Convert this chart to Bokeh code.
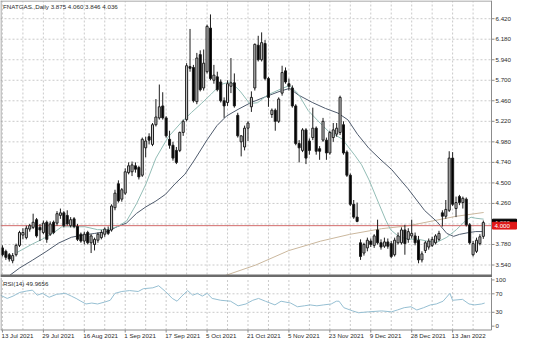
from bokeh.plotting import figure
from bokeh.layouts import column
from bokeh.models import ColumnDataSource, Range1d
from bokeh.core.properties import value
from bokeh.embed import file_html
from bokeh.resources import INLINE

# ---------------- data ----------------
symbol_header = "FNATGAS.,Daily  3.875 4.060 3.846 4.036"
rsi_header = "RSI(14) 49.9656"
last_close = 4.036
level_line = 4.000

opens = [3.74, 3.70, 3.66, 3.59, 3.66, 3.77, 3.89, 3.86, 3.96, 3.98,
         4.07, 3.98, 3.92, 4.04, 3.90, 4.04, 4.03, 4.12, 4.15, 4.12,
         4.00, 4.08, 3.99, 3.90, 3.82, 3.92, 3.80, 3.78, 3.83, 3.86,
         3.90, 3.95, 3.95, 4.21, 4.49, 4.31, 4.38, 4.62, 4.63, 4.70,
         4.68, 4.59, 4.91, 5.04, 4.95, 5.18, 5.26, 5.40, 5.26, 5.01,
         4.94, 4.88, 4.88, 5.09, 5.24, 5.86, 5.85, 5.45, 6.00, 5.61,
         5.80, 6.31, 5.70, 5.74, 5.68, 5.46, 5.44, 5.63, 5.67, 5.29,
         4.98, 4.92, 5.14, 5.39, 5.61, 6.11, 5.94, 6.13, 5.72, 5.30,
         5.35, 5.22, 5.55, 5.81, 5.66, 5.61, 5.40, 4.96, 4.88, 5.12,
         4.99, 5.03, 5.14, 4.90, 5.00, 5.00, 4.85, 5.03, 5.07, 5.09,
         5.18, 4.86, 4.59, 4.25, 4.10, 3.80, 3.68, 3.74, 3.82, 3.77,
         3.95, 3.80, 3.76, 3.81, 3.79, 3.66, 3.80, 3.80, 3.95, 3.84,
         3.88, 3.88, 3.83, 3.60, 3.71, 3.75, 3.77, 3.80, 3.84, 4.15,
         4.11, 4.18, 4.79, 4.20, 4.34, 4.27, 4.31, 4.01, 3.66, 3.70,
         3.79, 3.875]
highs = [3.77, 3.72, 3.68, 3.68, 3.79, 3.94, 3.97, 4.00, 4.02, 4.14,
         4.09, 4.02, 4.06, 4.06, 4.05, 4.06, 4.17, 4.20, 4.17, 4.18,
         4.10, 4.10, 4.02, 3.92, 3.93, 3.94, 3.90, 3.86, 3.92, 3.95,
         3.98, 3.99, 4.25, 4.42, 4.53, 4.44, 4.67, 4.74, 4.75, 4.74,
         4.70, 5.03, 5.04, 5.08, 5.20, 5.48, 5.65, 5.56, 5.28, 5.11,
         4.98, 4.92, 5.10, 5.24, 5.90, 6.30, 5.88, 6.02, 6.05, 6.06,
         6.35, 6.47, 5.88, 5.80, 5.71, 5.50, 5.70, 5.96, 5.78, 5.32,
         5.06, 5.17, 5.22, 5.57, 6.13, 6.22, 6.26, 6.17, 5.74, 5.37,
         5.37, 5.50, 5.87, 5.85, 5.72, 5.64, 5.42, 5.00, 5.14, 5.14,
         5.02, 5.38, 5.16, 4.93, 5.26, 5.03, 5.11, 5.20, 5.20, 5.52,
         5.22, 4.88, 4.61, 4.30, 4.27, 3.84, 3.80, 3.86, 3.85, 3.90,
         4.07, 3.84, 3.86, 3.85, 3.82, 3.86, 3.92, 3.98, 4.01, 3.97,
         4.07, 3.92, 3.88, 3.70, 3.82, 3.85, 3.87, 3.90, 3.94, 4.18,
         4.30, 4.87, 4.86, 4.34, 4.36, 4.34, 4.33, 4.03, 3.82, 3.86,
         3.90, 4.060]
lows = [3.64, 3.60, 3.58, 3.56, 3.64, 3.75, 3.84, 3.84, 3.93, 3.96,
        3.86, 3.82, 3.90, 3.80, 3.88, 3.90, 4.00, 4.08, 3.98, 4.00,
        3.98, 3.97, 3.82, 3.80, 3.78, 3.78, 3.68, 3.71, 3.80, 3.84,
        3.87, 3.89, 3.93, 4.18, 4.27, 4.28, 4.36, 4.60, 4.58, 4.62,
        4.54, 4.57, 4.80, 4.95, 4.93, 5.16, 5.24, 5.24, 5.03, 4.90,
        4.76, 4.72, 4.86, 5.05, 5.22, 5.80, 5.44, 5.42, 5.57, 5.58,
        5.78, 5.70, 5.66, 5.57, 5.44, 5.26, 5.40, 5.55, 5.38, 5.03,
        4.81, 4.88, 4.99, 5.33, 5.58, 5.92, 5.92, 5.70, 5.39, 5.26,
        5.11, 5.20, 5.52, 5.66, 5.58, 5.38, 4.94, 4.74, 4.86, 4.72,
        4.83, 5.00, 4.83, 4.77, 4.98, 4.77, 4.83, 4.98, 5.04, 5.06,
        4.83, 4.57, 4.23, 4.08, 4.04, 3.60, 3.65, 3.70, 3.75, 3.74,
        3.78, 3.72, 3.74, 3.73, 3.62, 3.64, 3.78, 3.78, 3.66, 3.80,
        3.85, 3.77, 3.56, 3.57, 3.68, 3.72, 3.75, 3.78, 3.82, 3.99,
        4.08, 4.16, 4.23, 4.10, 4.24, 4.20, 3.99, 3.78, 3.64, 3.68,
        3.77, 3.846]
closes = [3.66, 3.63, 3.61, 3.65, 3.77, 3.92, 3.92, 3.97, 4.00, 4.04,
          3.88, 3.95, 4.03, 3.84, 4.02, 3.92, 4.14, 4.15, 4.00, 4.02,
          4.07, 3.99, 3.84, 3.82, 3.90, 3.80, 3.88, 3.84, 3.90, 3.92,
          3.96, 3.91, 4.23, 4.38, 4.29, 4.42, 4.63, 4.70, 4.71, 4.66,
          4.57, 5.01, 4.99, 5.00, 5.18, 5.27, 5.39, 5.26, 5.05, 4.94,
          4.79, 4.74, 5.09, 5.22, 5.87, 5.84, 5.46, 5.96, 5.59, 5.90,
          6.33, 5.72, 5.76, 5.59, 5.46, 5.40, 5.66, 5.67, 5.40, 5.05,
          5.05, 5.14, 5.20, 5.50, 6.12, 5.94, 6.14, 5.72, 5.50, 5.35,
          5.22, 5.48, 5.79, 5.68, 5.63, 5.40, 4.96, 4.91, 5.12, 4.79,
          4.88, 5.14, 4.87, 4.87, 5.22, 4.85, 5.09, 5.12, 5.14, 5.50,
          4.85, 4.59, 4.25, 4.10, 4.05, 3.64, 3.78, 3.83, 3.78, 3.88,
          3.80, 3.75, 3.81, 3.76, 3.64, 3.83, 3.88, 3.95, 3.79, 3.93,
          3.91, 3.80, 3.60, 3.67, 3.80, 3.82, 3.84, 3.88, 3.91, 4.11,
          4.19, 4.79, 4.25, 4.27, 4.27, 4.32, 4.01, 3.80, 3.79, 3.83,
          3.87, 4.036]

# moving averages (bar position, price)
fast_ma_bar = [3.7, 8.8, 11.7, 15.1, 17.4, 20.2, 24.2, 27.9, 30.7, 33.6, 36.4, 39.3,
               42.1, 45.0, 48.6, 52.6, 55.5, 58.3, 61.2, 64.0, 66.9, 69.7, 72.5, 74.8,
               77.7, 81.4, 84.2, 86.8, 89.6, 92.5, 95.6, 99.6, 103.3, 105.3, 107.5,
               110.4, 112.4, 113.8, 116.1, 118.9, 121.8, 124.6, 127.5, 130.3, 133.1,
               136.0, 137.4, 138.8, 141.1]
fast_ma_val = [3.674, 3.786, 3.842, 3.920, 3.987, 3.987, 3.987, 3.953, 3.953, 3.987,
               4.054, 4.255, 4.489, 4.790, 5.036, 5.215, 5.326, 5.427, 5.538, 5.650,
               5.683, 5.572, 5.427, 5.438, 5.527, 5.594, 5.639, 5.538, 5.348, 5.226,
               5.103, 5.014, 4.824, 4.712, 4.534, 4.255, 4.065, 3.953, 3.875, 3.842,
               3.842, 3.819, 3.808, 3.864, 3.953, 4.065, 4.099, 4.087, 4.076]
slow_ma_bar = [1.7, 5.1, 8.8, 12.8, 16.5, 20.2, 23.0, 27.0, 30.7, 33.6, 36.4, 39.3,
               42.1, 45.0, 47.8, 50.6, 53.5, 56.3, 60.0, 62.9, 65.7, 69.1, 72.8, 77.7,
               81.4, 84.2, 86.8, 91.0, 94.7, 98.4, 101.3, 104.1, 107.5, 111.0, 114.1,
               118.9, 123.8, 127.5, 130.3, 132.3, 134.0, 136.8, 138.8, 141.1]
slow_ma_val = [3.406, 3.507, 3.596, 3.697, 3.797, 3.864, 3.886, 3.909, 3.931, 3.987,
               4.031, 4.143, 4.221, 4.288, 4.366, 4.489, 4.601, 4.768, 5.003, 5.170,
               5.282, 5.360, 5.438, 5.516, 5.572, 5.605, 5.527, 5.438, 5.371, 5.316,
               5.237, 5.069, 4.902, 4.768, 4.657, 4.433, 4.177, 4.043, 3.909, 3.875,
               3.898, 3.920, 3.931, 3.931]
long_ma_bar = [63.4, 65.4, 74.3, 83.9, 93.3, 101.8, 111.2, 118.9, 126.0, 133.1, 141.1]
long_ma_val = [3.395, 3.418, 3.540, 3.708, 3.819, 3.898, 3.965, 3.998, 4.054, 4.110, 4.154]

# RSI(14) (bar position, value)
rsi_bar = [-0.6, 1.4, 3.1, 5.1, 7.1, 8.8, 10.2, 11.7, 13.7, 15.9, 18.5, 20.2, 21.6,
           23.0, 24.5, 26.2, 27.9, 29.9, 31.6, 33.0, 35.0, 37.3, 39.8, 41.3, 44.1,
           45.8, 47.8, 49.8, 51.2, 52.6, 54.3, 55.8, 57.2, 58.6, 60.0, 61.5, 64.0,
           66.9, 69.1, 71.4, 73.4, 75.1, 77.1, 79.9, 81.7, 84.5, 86.5, 88.5, 90.2,
           92.2, 94.2, 96.4, 97.9, 98.7, 100.1, 102.7, 104.4, 107.3, 111.2, 114.1,
           115.8, 117.8, 119.8, 121.5, 123.5, 125.5, 127.2, 129.2, 131.2, 132.0,
           134.9, 136.8, 138.5, 140.5, 141.4]
rsi_val = [67, 60, 65, 73, 76, 78, 67, 71, 62.5, 69, 71, 65, 60,
           54, 48, 50, 48, 52, 56, 71, 75, 77, 75, 81, 83,
           87.5, 75, 60, 54, 65, 77, 67, 71, 65, 71, 60, 56,
           54, 44, 48, 56, 60, 54, 46, 54, 50, 42, 44, 46,
           44, 46, 48, 54, 54, 40, 33, 29, 31, 33, 31,
           35, 40, 42, 35, 40, 46, 48, 54, 71, 56,
           58, 48, 46, 48, 50]

price_ticks = [3.54, 3.78, 4.02, 4.26, 4.50, 4.74, 4.98, 5.22, 5.46, 5.70, 5.94, 6.18, 6.42]
hidden_price_tick = 4.02          # covered by the price boxes
rsi_ticks = [0, 30, 70, 100]
rsi_levels = [30, 70]
date_labels = ["13 Jul 2021", "29 Jul 2021", "16 Aug 2021", "1 Sep 2021", "17 Sep 2021",
               "5 Oct 2021", "21 Oct 2021", "5 Nov 2021", "23 Nov 2021", "9 Dec 2021",
               "28 Dec 2021", "13 Jan 2022"]
bars_per_label = 12
bars_per_grid = 6

# ---------------- geometry ----------------
W = 520
CHART_W = 491
BAR0, BAR_END = -0.57, 143.4
ppb = CHART_W / (BAR_END - BAR0)
X_END = BAR0 + W / ppb

P_TOP, P_BOT = 6.621, 3.429
MAIN_FRAME_H = 273
ppu = MAIN_FRAME_H / (P_TOP - P_BOT)
H1 = 277
y1_max = P_TOP + 1 / ppu
y1_min = y1_max - H1 / ppu

R_TOP, R_BOT = 104.2, -8.3
RSI_FRAME_H = 52
rppu = RSI_FRAME_H / (R_TOP - R_BOT)
H2 = 67
y2_max = R_TOP + 0.5 / rppu
y2_min = y2_max - H2 / rppu


def dx(px):
    return px / ppb


# ---------------- styling ----------------
FONT = value("Liberation Sans")
FS = value("6.2px")
TXT = "#2b2b2b"
FRAME = "#8c8c8c"
GRID = "#cacaca"
BULL_FILL = "#cdcdcd"
EDGE = "#1e1e1e"

n = len(opens)
xs = list(range(n))
up = [c >= o for o, c in zip(opens, closes)]
grid_x = [g for g in range(0, n + 6, bars_per_grid) if g < BAR_END]
label_x = [k * bars_per_label for k in range(len(date_labels))]

# ================= main panel =================
p = figure(width=W, height=H1, x_range=Range1d(BAR0, X_END), y_range=Range1d(y1_min, y1_max),
           output_backend="svg", toolbar_location=None, x_axis_location=None,
           y_axis_location=None, min_border=0, outline_line_color=None,
           background_fill_color="white", border_fill_color="white")
p.grid.visible = False

# dotted grid
p.segment(x0=BAR0, x1=BAR_END, y0=price_ticks, y1=price_ticks,
          line_color=GRID, line_width=1, line_dash="2 2")
p.segment(x0=grid_x, x1=grid_x, y0=P_BOT, y1=P_TOP,
          line_color=GRID, line_width=1, line_dash="2 2")

# moving averages
p.line(long_ma_bar, long_ma_val, line_color="#cbb89e", line_width=1)
p.line(slow_ma_bar, slow_ma_val, line_color="#4f5b6d", line_width=1)
p.line(fast_ma_bar, fast_ma_val, line_color="#93bdb6", line_width=1)

# level line
p.segment(x0=BAR0, x1=BAR_END, y0=level_line, y1=level_line, line_color="#d26b6b", line_width=1)

# candles
src = ColumnDataSource(dict(x=xs, o=opens, h=highs, l=lows, c=closes,
                            top=[max(a, b) for a, b in zip(opens, closes)],
                            bot=[min(a, b) for a, b in zip(opens, closes)],
                            fill=[BULL_FILL if u else "#000000" for u in up]))
p.segment(x0="x", y0="h", x1="x", y1="l", source=src, line_color=EDGE, line_width=1)
p.vbar(x="x", width=0.6, top="top", bottom="bot", source=src,
       fill_color="fill", line_color=EDGE, line_width=1)

# frame: top, left, right (axis line) and the thick separator
p.segment(x0=BAR0, x1=BAR_END, y0=y1_max - 0.5 / ppu, y1=y1_max - 0.5 / ppu,
          line_color=FRAME, line_width=1)
p.segment(x0=BAR0 + dx(0.5), x1=BAR0 + dx(0.5), y0=y1_min, y1=y1_max,
          line_color=FRAME, line_width=1)
p.segment(x0=BAR_END, x1=BAR_END, y0=y1_min, y1=y1_max, line_color=FRAME, line_width=1)
sep_y = y1_max - 275.5 / ppu
p.segment(x0=BAR0, x1=BAR_END + dx(0.5), y0=sep_y, y1=sep_y, line_color="#6c6c6c", line_width=3)

# right price scale
p.segment(x0=BAR_END, x1=BAR_END + dx(3), y0=price_ticks, y1=price_ticks,
          line_color=FRAME, line_width=1)
shown = [t for t in price_ticks if abs(t - hidden_price_tick) > 1e-9]
p.text(x=BAR_END + dx(4), y=shown, text=[f"{t:.3f}" for t in shown],
       text_font=FONT, text_font_size=FS, text_color=TXT,
       text_align="left", text_baseline="middle")

# price boxes: last close (black) under the level (red)
bh = 3.4 / ppu
for val, col in ((last_close, "#000000"), (level_line, "#e01818")):
    p.quad(left=BAR_END + dx(1), right=BAR_END + dx(25), bottom=val - bh, top=val + bh,
           fill_color=col, line_color=col)
    p.text(x=BAR_END + dx(3), y=val, text=[f"{val:.3f}"], text_font=FONT,
           text_font_size=FS, text_color="white", text_align="left", text_baseline="middle")

# header
p.text(x=BAR0 + dx(2.5), y=y1_max - 2.5 / ppu, text=[symbol_header], text_font=FONT,
       text_font_size=FS, text_color=TXT, text_align="left", text_baseline="top")

# ================= RSI panel =================
r = figure(width=W, height=H2, x_range=p.x_range, y_range=Range1d(y2_min, y2_max),
           output_backend="svg", toolbar_location=None, x_axis_location=None,
           y_axis_location=None, min_border=0, outline_line_color=None,
           background_fill_color="white", border_fill_color="white")
r.grid.visible = False

r.segment(x0=BAR0, x1=BAR_END, y0=rsi_levels, y1=rsi_levels,
          line_color=GRID, line_width=1, line_dash="2 2")
r.segment(x0=grid_x, x1=grid_x, y0=R_BOT, y1=R_TOP,
          line_color=GRID, line_width=1, line_dash="2 2")

r.line(rsi_bar, rsi_val, line_color="#96bfd2", line_width=1)

# frame
r.segment(x0=BAR0 + dx(0.5), x1=BAR0 + dx(0.5), y0=R_BOT, y1=y2_max,
          line_color=FRAME, line_width=1)
r.segment(x0=BAR0, x1=BAR_END, y0=R_BOT, y1=R_BOT, line_color=FRAME, line_width=1)
r.segment(x0=BAR_END, x1=BAR_END, y0=R_BOT, y1=y2_max, line_color=FRAME, line_width=1)

# RSI scale
r.segment(x0=BAR_END, x1=BAR_END + dx(3), y0=rsi_ticks, y1=rsi_ticks,
          line_color=FRAME, line_width=1)
r.text(x=BAR_END + dx(4), y=rsi_ticks, text=[str(t) for t in rsi_ticks],
       text_font=FONT, text_font_size=FS, text_color=TXT,
       text_align="left", text_baseline="middle")

# header
r.text(x=BAR0 + dx(2.5), y=R_TOP - 2.0 / rppu, text=[rsi_header], text_font=FONT,
       text_font_size=FS, text_color=TXT, text_align="left", text_baseline="top")

# date scale (labels start at their bar, as MT4 draws them)
r.segment(x0=label_x, x1=label_x, y0=R_BOT, y1=R_BOT - 2.5 / rppu,
          line_color=FRAME, line_width=1)
r.text(x=[b - dx(1) for b in label_x], y=R_BOT - 5.0 / rppu, text=date_labels,
       text_font=FONT, text_font_size=FS, text_color=TXT,
       text_align="left", text_baseline="middle")

layout = column(p, r, spacing=0)
open("out.html", "w").write(file_html(layout, INLINE))
